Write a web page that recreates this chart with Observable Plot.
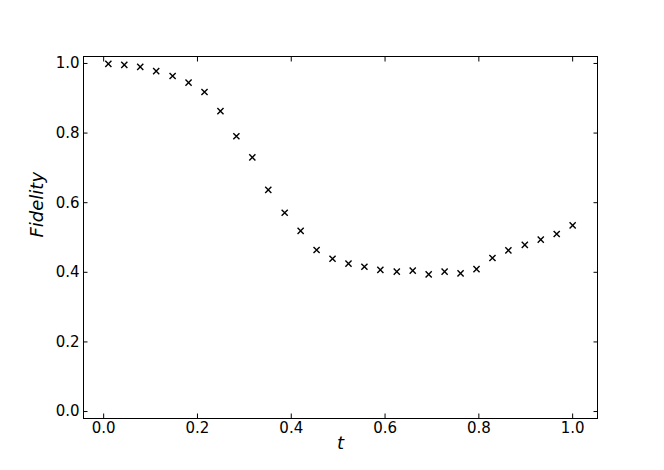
<!DOCTYPE html>
<html>
<head>
<meta charset="utf-8">
<script src="https://cdn.jsdelivr.net/npm/d3@7"></script>
<script src="https://cdn.jsdelivr.net/npm/@observablehq/plot@0.6"></script>
<style>
  html, body { margin: 0; padding: 0; background: #fff; }
  svg { display: block; }
  g[aria-label$="tick label"] { font-size: 15px; font-family: "DejaVu Sans"; }
</style>
</head>
<body>
<div id="chart"></div>
<script>
const tValues = [0.010, 0.044, 0.078, 0.112, 0.147, 0.181, 0.215, 0.249, 0.283, 0.317,
                 0.351, 0.386, 0.420, 0.454, 0.488, 0.522, 0.556, 0.590, 0.625, 0.659,
                 0.693, 0.727, 0.761, 0.795, 0.829, 0.863, 0.898, 0.932, 0.966, 1.000];
const fidelity = [0.999, 0.996, 0.990, 0.978, 0.964, 0.945, 0.918, 0.863, 0.791, 0.730,
                  0.637, 0.571, 0.519, 0.464, 0.439, 0.425, 0.416, 0.407, 0.402, 0.405,
                  0.394, 0.402, 0.397, 0.409, 0.441, 0.463, 0.479, 0.494, 0.510, 0.535];
const xTicks = [0, 0.2, 0.4, 0.6, 0.8, 1.0];
const yTicks = [0, 0.2, 0.4, 0.6, 0.8, 1.0];

const data = tValues.map((t, i) => ({t, f: fidelity[i]}));
const font = "DejaVu Sans";

const plot = Plot.plot({
  width: 664,
  height: 470,
  marginLeft: 83,
  marginRight: 67,
  marginTop: 56,
  marginBottom: 52,
  style: {fontFamily: font, fontSize: "15px", color: "black", background: "white"},
  x: {domain: [-0.043, 1.053]},
  y: {domain: [-0.02, 1.02]},
  marks: [
    Plot.axisX(xTicks, {anchor: "bottom", tickSize: -4.5, text: null, label: null, stroke: "black"}),
    Plot.axisX(xTicks, {anchor: "top", tickSize: -4.5, text: null, label: null, stroke: "black"}),
    Plot.axisY(yTicks, {anchor: "left", tickSize: -4.5, text: null, label: null, stroke: "black"}),
    Plot.axisY(yTicks, {anchor: "right", tickSize: -4.5, text: null, label: null, stroke: "black"}),
    Plot.axisX(xTicks, {anchor: "bottom", tickSize: 0, tickPadding: 4, tickFormat: d3.format(".1f"), label: null, fontSize: 15, fill: "black"}),
    Plot.axisY(yTicks, {anchor: "left", tickSize: 0, tickPadding: 4, tickFormat: d3.format(".1f"), label: null, fontSize: 15, fill: "black"}),
    Plot.frame({stroke: "black", strokeWidth: 1}),
    Plot.dot(data, {x: "t", y: "f", symbol: "times", r: 2.9, stroke: "black", strokeWidth: 1.4}),
    Plot.text(["Fidelity"], {frameAnchor: "left", dx: -46, rotate: -90, fontStyle: "italic", fontSize: 18, fill: "black"}),
    Plot.text(["t"], {frameAnchor: "bottom", dy: 30, fontStyle: "italic", fontSize: 18, fill: "black"})
  ]
});
document.getElementById("chart").appendChild(plot);
</script>
</body>
</html>
